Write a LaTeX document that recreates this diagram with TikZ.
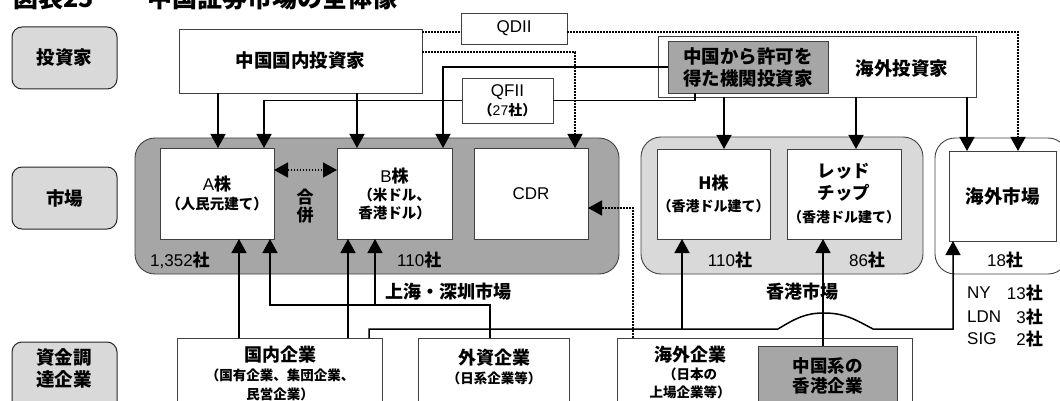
\documentclass[tikz,border=0pt]{standalone}
\usepackage{fontspec}
\setmainfont{Liberation Sans}
\newfontfamily\jp{Noto Sans CJK JP}
\usetikzlibrary{arrows.meta}
\definecolor{dk}{HTML}{A6A6A6}
\definecolor{lg}{HTML}{D9D9D9}
\definecolor{bd}{HTML}{404040}
\newcommand\JF[2]{\fontsize{#1}{#2}\selectfont\jp\bfseries}
\newcommand\LF[2]{\fontsize{#1}{#2}\selectfont\rmfamily\mdseries}
\newcommand\latn[1]{{\rmfamily\mdseries #1}}
\newcommand\bx[7]{\node[#1,anchor=north west,minimum width=#4-#2,minimum height=#5-#3] (#6) at (#2,#3) {#7};}
\begin{document}
\begin{tikzpicture}[x=1pt,y=-1pt,
  box/.style={draw=bd,line width=0.9pt,fill=white,inner sep=0pt,outer sep=0pt,align=center},
  gbox/.style={box,fill=dk},
  cont/.style={draw=bd,line width=0.9pt,rounded corners=20pt,inner sep=0pt,outer sep=0pt},
  rowlab/.style={draw=black!85,line width=1pt,fill=lg,rounded corners=10pt,inner sep=0pt,outer sep=0pt,align=center,font=\JF{18.5}{22}},
  lbl/.style={inner sep=0pt,align=center},
  conn/.style={line width=1.5pt,black},
  arr/.style={conn,-{Triangle[length=14pt,width=15pt]}},
  dot/.style={line width=1.6pt,dash pattern=on 1.6pt off 1.4pt},
  darr/.style={dot,-{Triangle[length=14pt,width=15pt]}},
  ddarr/.style={dot,{Triangle[length=14pt,width=15pt]}-{Triangle[length=14pt,width=15pt]}}]
\useasboundingbox (0,0) rectangle (1060,401);
% title (cut at top)
\node[anchor=base west,inner sep=0pt,font=\JF{25}{30}] (t1) at (13,8) {図表25};
\node[anchor=base west,inner sep=0pt,font=\JF{25}{30}] (t2) at (147,8) {中国証券市場の全体像};
% row labels
\bx{rowlab}{12}{27}{117}{89}{rInv}{投資家}
\bx{rowlab}{12}{167}{117}{229}{rMkt}{市場}
\bx{rowlab}{12}{342}{117}{416}{rCorp}{}
\node[lbl,font=\JF{18.5}{22}] (rCorpT) at (64,368) {資金調\\\JF{18.5}{22}達企業};
% investors
\bx{box,font=\JF{18.5}{22}}{179}{29}{422}{93}{dom}{中国国内投資家}
\bx{box,font=\LF{17}{20}}{461}{13}{567}{44}{qdii}{QDII}
\bx{box}{658}{36}{976}{97}{ovs}{}
\bx{gbox,font=\JF{18.5}{22}}{668}{41}{828}{93}{inst}{中国から許可を\\\JF{18.5}{22}得た機関投資家}
\node[lbl,font=\JF{18.5}{22}] (ovsT) at (902,68) {海外投資家};
\bx{box,font=\LF{17}{19}}{462}{78}{553}{123}{qfii}{QFII\\\JF{14}{17}（\latn{27}社）}
% markets
\bx{cont,fill=dk}{135}{138}{619}{274}{szC}{}
\bx{cont,fill=lg}{641}{137}{923}{274}{hkC}{}
\bx{cont,fill=white}{935}{138}{1068}{274}{ovC}{}
\bx{box,font=\JF{17}{18}}{160}{148}{274}{239}{A}{\latn{A}株\\[1pt]\JF{14.5}{17}（人民元建て）}
\bx{box,font=\JF{17}{18}}{337}{148}{452}{239}{B}{\latn{B}株\\\JF{14.5}{17}（米ドル、\\\JF{14.5}{17}香港ドル）}
\bx{box,font=\LF{17}{20}}{474}{148}{588}{239}{CDR}{CDR}
\bx{box,font=\JF{17}{19}}{657}{149}{770}{239}{H}{H株\\[3pt]\JF{14}{18}（香港ドル建て）}
\bx{box,font=\JF{17.5}{22}}{787}{149}{901}{239}{RC}{レッド\\\JF{17.5}{22}チップ\\[1pt]\JF{14}{19}（香港ドル建て）}
\bx{box,font=\JF{18.5}{20}}{949}{151}{1056}{241}{OV}{海外市場}
\node[lbl,font=\JF{17}{18}] (merge) at (305,206) {合\\\JF{17}{18}併};
\node[lbl,anchor=west,font=\JF{17}{20}] (n1352) at (150,260) {\latn{1,352}社};
\node[lbl,anchor=west,font=\JF{17}{20}] (n110a) at (397,260) {\latn{110}社};
\node[lbl,font=\JF{18}{20}] (szT) at (448,292) {上海・深圳市場};
\node[lbl,font=\JF{17}{20}] (n110b) at (730,260) {\latn{110}社};
\node[lbl,font=\JF{17}{20}] (n86) at (867,260) {\latn{86}社};
\node[lbl,font=\JF{17}{20}] (n18) at (1005,260) {\latn{18}社};
\node[lbl,font=\JF{18}{20}] (hkT) at (802,292) {香港市場};
\node[lbl,anchor=west,font=\LF{17}{20}] (ny) at (967,293) {NY};
\node[lbl,anchor=east,font=\JF{17}{20}] (ny2) at (1043,293) {\latn{13}社};
\node[lbl,anchor=west,font=\LF{17}{20}] (ldn) at (967,317) {LDN};
\node[lbl,anchor=east,font=\JF{17}{20}] (ldn2) at (1043,317) {\latn{3}社};
\node[lbl,anchor=west,font=\LF{17}{20}] (sig) at (967,339) {SIG};
\node[lbl,anchor=east,font=\JF{17}{20}] (sig2) at (1043,339) {\latn{2}社};
% companies
\bx{box}{177}{338}{382}{416}{dcorp}{}
\node[lbl,anchor=north,font=\JF{18}{19}] (dcorpT) at (280,346) {国内企業\\\JF{13.5}{16}（国有企業、集団企業、\\\JF{13.5}{16}民営企業）};
\bx{box}{418}{338}{569}{416}{fcorp}{}
\node[lbl,anchor=north,font=\JF{18}{19}] (fcorpT) at (494,349) {外資企業\\\JF{13.5}{17}（日系企業等）};
\bx{box}{617}{338}{912}{416}{ocorp}{}
\node[lbl,anchor=north,font=\JF{18}{18}] (ocorpT) at (690,346) {海外企業\\\JF{13.5}{16}（日本の\\\JF{13.5}{16}上場企業等）};
\bx{gbox,font=\JF{17.5}{20}}{758}{346}{897}{406}{hkcorp}{中国系の\\\JF{17.5}{20}香港企業}
% coordinates
\coordinate (yq) at (0,32);
\coordinate (y52) at (0,52);
\coordinate (y170) at (0,170);
\coordinate (y208) at (0,208);
\coordinate (y305) at (0,305);
\coordinate (y329) at (0,329);
\coordinate (c218) at (218,0);
\coordinate (c357) at (357,0);
\coordinate (c264) at (264,0);
\coordinate (c443) at (443,0);
\coordinate (c695) at (695,0);
\coordinate (c724) at (724,0);
\coordinate (c856) at (856,0);
\coordinate (c967) at (967,0);
\coordinate (c1018) at (1018,0);
\coordinate (c575) at (575,0);
\coordinate (c239) at (239,0);
\coordinate (c348) at (348,0);
\coordinate (c270) at (270,0);
\coordinate (c375) at (375,0);
\coordinate (c490) at (490,0);
\coordinate (c369) at (369,0);
\coordinate (c682) at (682,0);
\coordinate (c953) at (953,0);
\coordinate (c823) at (823,0);
\coordinate (c633) at (633,0);
\coordinate (b1) at (778,329);
\coordinate (bc1) at (796,318);
\coordinate (bc2) at (806,313);
\coordinate (b2) at (824,313);
\coordinate (bc3) at (845,313);
\coordinate (bc4) at (856,320);
\coordinate (b3) at (873,329);
% investor connectors
\draw[arr] (dom.south -| c218) -- (A.north -| c218);
\draw[arr] (dom.south -| c357) -- (B.north -| c357);
\draw[conn] (inst.south -| c695) |- (qfii.east);
\draw[arr] (qfii.west) -| (A.north -| c264);
\draw[arr] (inst.west) -| (B.north -| c443);
\draw[arr] (ovs.south -| c724) -- (H.north -| c724);
\draw[arr] (ovs.south -| c856) -- (RC.north -| c856);
\draw[arr] (ovs.south -| c967) -- (OV.north -| c967);
\draw[dot] (dom.east |- yq) -- (qdii.west |- yq);
\draw[darr] (qdii.east |- yq) -| (OV.north -| c1018);
\draw[darr] (dom.east |- y52) -| (CDR.north -| c575);
\draw[ddarr] (A.east |- y170) -- (B.west |- y170);
% company connectors
\draw[arr] (dcorp.north -| c239) -- (A.south -| c239);
\draw[arr] (dcorp.north -| c348) -- (B.south -| c348);
\draw[arr] (fcorp.north -| c490) |- (c270 |- y305) -- (A.south -| c270);
\draw[arr] (c375 |- y305) -- (B.south -| c375);
\draw[arr] (dcorp.north -| c369) -- (c369 |- y329) -- (b1) .. controls (bc1) and (bc2) .. (b2) .. controls (bc3) and (bc4) .. (b3) -| (OV.south -| c953);
\draw[arr] (c682 |- y329) -- (H.south -| c682);
\draw[arr] (hkcorp.north -| c823) -- (RC.south -| c823);
\draw[darr] (ocorp.north -| c633) |- (CDR.east |- y208);
\end{tikzpicture}
\end{document}
